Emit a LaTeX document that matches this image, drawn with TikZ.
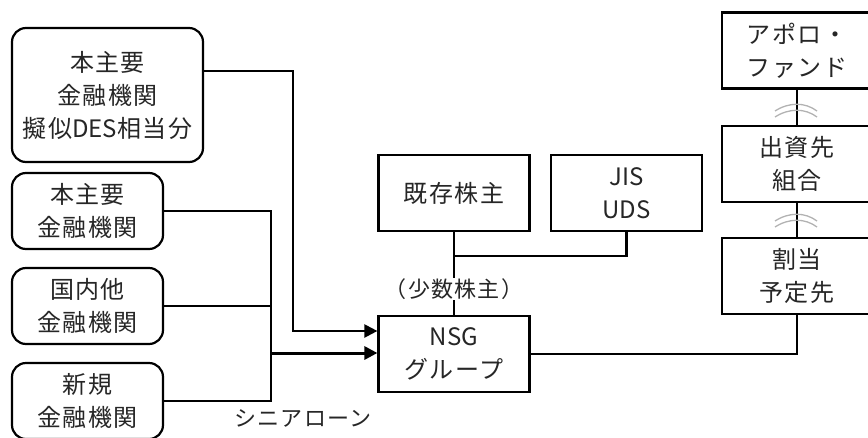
\documentclass[tikz,border=0pt]{standalone}
\usepackage{fontspec}
\setmainfont{Noto Sans CJK JP}[LetterSpace=6]
\newfontfamily\latn{Noto Sans CJK JP}
\usetikzlibrary{arrows.meta,positioning,calc}

\begin{document}
\begin{tikzpicture}[x=1pt,y=-1pt,>={Triangle[length=13pt,width=13pt]},
  box/.style={draw,line width=2.2pt,fill=white,align=center,inner sep=0pt,text=black!85,
    minimum width=151pt,minimum height=76pt,font=\fontsize{24}{33}\selectfont},
  bank/.style={box,rounded corners=14pt},
  link/.style={line width=2.2pt},
  wave/.style={black!30,line width=1.3pt}]
  \useasboundingbox (0,0) rectangle (868,437);
  % lenders
  \node[bank,minimum width=191pt,minimum height=134pt] (desA) at (107.5,95) {本主要\\金融機関\\擬似{\latn DES}相当分};
  \node[bank] (mainB) at (87.5,211) {本主要\\金融機関};
  \node[bank] (domC) at (87.5,306) {国内他\\金融機関};
  \node[bank] (newD) at (87.5,401) {新規\\金融機関};
  % shareholders and group
  \node[box] (kizon) at (454,193) {既存株主};
  \node[box] (jis) at (626.5,193) {\latn JIS\\\latn UDS};
  \node[box] (nsg) at (454,354) {{\latn NSG}\\グループ};
  % investors
  \node[box,minimum width=150pt] (apollo) at (797,50.5) {アポロ・\\ファンド};
  \node[box,minimum width=150pt] (fund) at (797,164) {出資先\\組合};
  \node[box,minimum width=150pt] (alloc) at (797,276) {割当\\予定先};

  \coordinate (bend) at (293,331);
  \coordinate (join) at (271,353);
  \coordinate (tee) at (454,256);
  \draw[link,->] (desA.east |- 0,71) -| (bend) -- (bend -| nsg.west);
  \draw[link] (mainB.east) -| (join);
  \draw[link] (newD.east) -| (join);
  \draw[link] (domC.east) -- (domC.east -| join);
  \draw[link,line width=3pt,->] (join) -- (join -| nsg.west);
  \node[text=black!85,font=\fontsize{22}{25}\selectfont] (senior) at (303,418) {シニアローン};

  \draw[link] (kizon) -- (nsg);
  \draw[link] (jis.south) |- (tee);
  \node[fill=white,inner sep=1pt,text=black!85,font=\fontsize{22}{25}\selectfont] (minor) at (454,289) {（少数株主）};
  \draw[link] (nsg.east) -| (alloc.south);

  \draw[link] (apollo) -- (fund);
  \draw[link] (fund) -- (alloc);
  \foreach \y in {107,217} {
    \draw[wave] (775,\y+4) .. controls (789,\y-5) and (805,\y-5) .. (817,\y+4);
    \draw[wave] (775,\y+10) .. controls (789,\y+1) and (805,\y+1) .. (817,\y+10);
  }
\end{tikzpicture}
\end{document}
